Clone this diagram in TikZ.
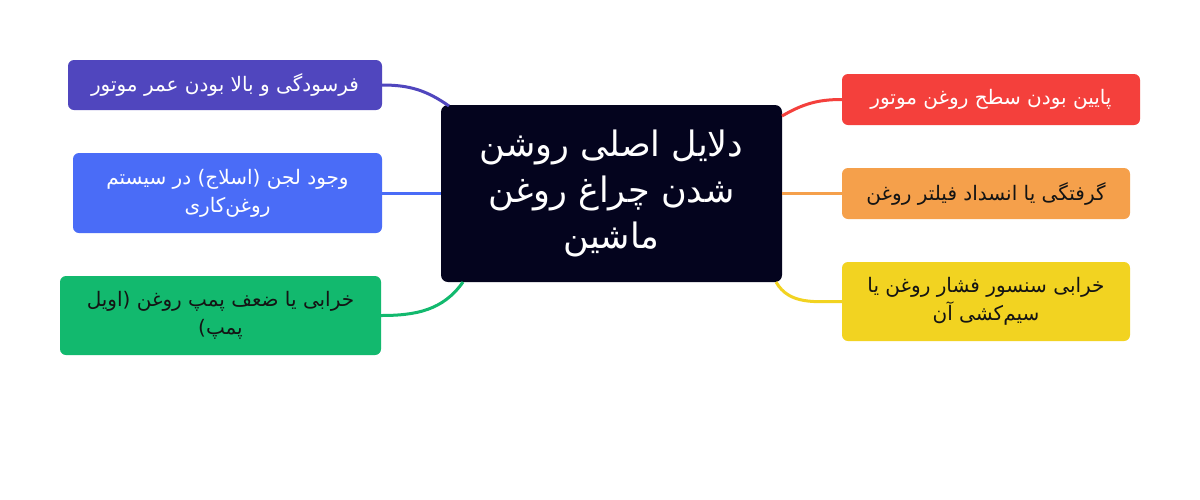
\documentclass[tikz,border=0pt]{standalone}
\usepackage{fontspec}
\newfontfamily\arabicfont[Script=Arabic]{DejaVu Sans}
\TeXXeTstate=1
\newcommand{\fa}[1]{{\arabicfont\beginR #1\endR}}
\definecolor{cdark}{RGB}{4,4,30}
\definecolor{cpurple}{RGB}{80,70,190}
\definecolor{cblue}{RGB}{74,108,247}
\definecolor{cgreen}{RGB}{18,185,110}
\definecolor{cred}{RGB}{244,64,60}
\definecolor{corange}{RGB}{245,160,75}
\definecolor{cyellow}{RGB}{242,211,33}
\definecolor{ctext}{RGB}{20,20,20}
\tikzset{
  leaf/.style={rounded corners=6pt, inner sep=0pt, align=center,
    font=\fontsize{20}{28}\selectfont},
  hub/.style={rounded corners=7pt, fill=cdark, text=white, inner sep=0pt,
    align=center, minimum width=341pt, minimum height=177pt,
    font=\fontsize{35}{46}\selectfont},
  link/.style={line width=3pt}
}
\begin{document}
\begin{tikzpicture}[x=1pt,y=-1pt]
\useasboundingbox[fill=white] (0,0) rectangle (1200,499);
\node[hub] (c) at (611.5,193.5) {\fa{دلایل اصلی روشن}\\\fa{شدن چراغ روغن}\\\fa{ماشین}};
\node[leaf, fill=cpurple, text=white, minimum width=314pt, minimum height=50pt] (l1) at (225,85) {\fa{فرسودگی و بالا بودن عمر موتور}};
\node[leaf, fill=cblue, text=white, minimum width=309pt, minimum height=80pt] (l2) at (227.5,193) {\fa{وجود لجن (اسلاج) در سیستم}\\\fa{روغن‌کاری}};
\node[leaf, fill=cgreen, text=ctext, minimum width=321pt, minimum height=79pt] (l3) at (220.5,315.5) {\fa{خرابی یا ضعف پمپ روغن (اویل}\\\fa{پمپ)}};
\node[leaf, fill=cred, text=white, minimum width=298pt, minimum height=51pt] (r1) at (991,99.5) {\fa{پایین بودن سطح روغن موتور}};
\node[leaf, fill=corange, text=ctext, minimum width=288pt, minimum height=51pt] (r2) at (986,193.5) {\fa{گرفتگی یا انسداد فیلتر روغن}};
\node[leaf, fill=cyellow, text=ctext, minimum width=288pt, minimum height=79pt] (r3) at (986,301.5) {\fa{خرابی سنسور فشار روغن یا}\\\fa{سیم‌کشی آن}};
\coordinate (cl1) at (449,106);
\coordinate (cl3) at (463,282);
\coordinate (cr1) at (782,116);
\coordinate (cr3) at (776,282);
\draw[link, cpurple] (l1.east) to[out=0,in=145] (cl1);
\draw[link, cblue] (l2.east) -- (c.west |- l2.east);
\draw[link, cgreen] (l3.east) to[out=0,in=235] (cl3);
\draw[link, cred] (r1.west) to[out=180,in=30] (cr1);
\draw[link, corange] (r2.west) -- (c.east |- r2.west);
\draw[link, cyellow] (r3.west) to[out=180,in=-60] (cr3);
\end{tikzpicture}
\end{document}
